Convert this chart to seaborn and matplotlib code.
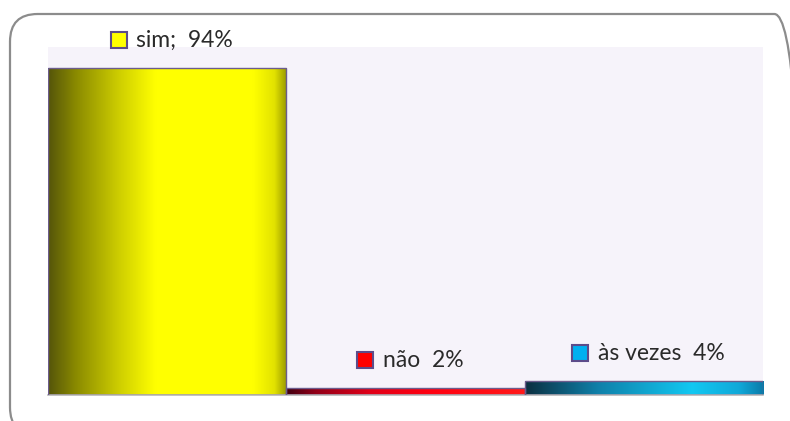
import matplotlib
matplotlib.use("Agg")
import matplotlib.pyplot as plt
import seaborn as sns
import numpy as np
import pandas as pd
from matplotlib.colors import LinearSegmentedColormap
from matplotlib.patches import FancyBboxPatch, Rectangle
from matplotlib.offsetbox import AnnotationBbox, HPacker, DrawingArea, TextArea

# data
categories = ["sim", "não", "às vezes"]
values = [94, 2, 4]
labels = ["sim;  94%", "não  2%", "às vezes  4%"]
key_colors = ["#ffff00", "#ff0000", "#00b0f0"]

# horizontal shading of each bar (left -> right)
gradients = [
    [(0.0, "#55550a"), (0.12, "#8c8c00"), (0.3, "#cfcf00"), (0.45, "#ffff00"),
     (0.86, "#ffff00"), (0.95, "#e2e200"), (1.0, "#9a9a00")],
    [(0.0, "#400010"), (0.12, "#900018"), (0.35, "#e00018"), (0.6, "#ff0010"), (1.0, "#ff1a1a")],
    [(0.0, "#0b2f40"), (0.3, "#0f7fa8"), (0.7, "#12c8f2"), (0.9, "#10a8d8"), (1.0, "#0a7aa8")],
]

df = pd.DataFrame({"cat": categories, "val": values})

sns.set_style("white")
plt.rcParams["font.family"] = ["Lato", "DejaVu Sans"]

fig = plt.figure(figsize=(7.9, 4.21), dpi=100)
ax = fig.add_axes([0.0608, 0.0618, 0.905, 0.8266])

# rounded frame around the chart (cut off at right and bottom)
frame = FancyBboxPatch((10 / 790, -14 / 421), 802 / 790 - 10 / 790, (421 - 14 + 14) / 421,
                       boxstyle="round,pad=0,rounding_size=0.035",
                       mutation_aspect=790 / 421,
                       transform=fig.transFigure, fill=False,
                       edgecolor="#8c8c8c", linewidth=1.6, zorder=0)
fig.patches.append(frame)

sns.barplot(data=df, x="cat", y="val", width=1.0, ax=ax,
            color="white", edgecolor="#6c5c8c", linewidth=1.0, zorder=2)

ax.set_facecolor("#f6f3fa")
ax.set_xticks([])
ax.set_yticks([])
ax.set_xlabel("")
ax.set_ylabel("")
for side in ["top", "left", "right"]:
    ax.spines[side].set_visible(False)
ax.spines["bottom"].set_color("#b8b8b8")
ax.spines["bottom"].set_linewidth(1.2)

for i, patch in enumerate(ax.patches):
    x0, y0 = patch.get_x(), patch.get_y()
    w, h = patch.get_width(), patch.get_height()
    cmap = LinearSegmentedColormap.from_list(f"g{i}", gradients[i])
    grad = np.linspace(0, 1, 256).reshape(1, -1)
    im = ax.imshow(grad, cmap=cmap, aspect="auto", extent=[x0, x0 + w, y0, y0 + h],
                   zorder=2.5, interpolation="bicubic")
    im.set_clip_path(patch)
    patch.set_facecolor("none")
    patch.set_zorder(3)

    # legend-key square + label above the bar
    da = DrawingArea(11.5, 11.5, 0, 0)
    da.add_artist(Rectangle((0, 0), 11.5, 11.5, facecolor=key_colors[i],
                            edgecolor="#5c4c8a", linewidth=1.5))
    ta = TextArea(labels[i], textprops=dict(fontsize=16.5, color="#2a2a2a"))
    box = HPacker(children=[da, ta], align="center", pad=0, sep=7)
    ab = AnnotationBbox(box, (x0 + w / 2 + 0.02, y0 + h), xybox=(0, 20),
                        xycoords="data", boxcoords="offset points",
                        frameon=False, box_alignment=(0.5, 0.5),
                        annotation_clip=False, zorder=5)
    ax.add_artist(ab)

ax.set_xlim(-0.5, 2.5)
ax.set_ylim(0, 100)

fig.savefig("out.png", dpi=100, facecolor="white")
